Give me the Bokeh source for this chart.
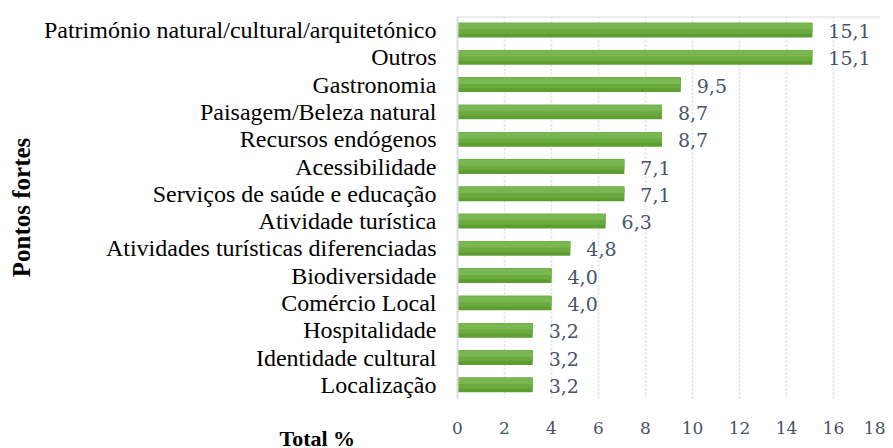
from bokeh.plotting import figure
from bokeh.models import ColumnDataSource, Title, FixedTicker, Range1d, Span
from bokeh.transform import dodge
from bokeh.embed import file_html
from bokeh.resources import INLINE

categories = [
    "Património natural/cultural/arquitetónico",
    "Outros",
    "Gastronomia",
    "Paisagem/Beleza natural",
    "Recursos endógenos",
    "Acessibilidade",
    "Serviços de saúde e educação",
    "Atividade turística",
    "Atividades turísticas diferenciadas",
    "Biodiversidade",
    "Comércio Local",
    "Hospitalidade",
    "Identidade cultural",
    "Localização",
]
values = [15.1, 15.1, 9.5, 8.7, 8.7, 7.1, 7.1, 6.3, 4.8, 4.0, 4.0, 3.2, 3.2, 3.2]
x_ticks = [0, 2, 4, 6, 8, 10, 12, 14, 16, 18]

labels = [f"{v:.1f}".replace(".", ",") for v in values]
source = ColumnDataSource(dict(cat=categories, val=values, lab=labels))

FONT = "Liberation Serif"
NUMFONT = "DejaVu Serif"
TXT = "#44546A"

p = figure(
    width=885, height=448,
    y_range=list(reversed(categories)),
    x_range=Range1d(0, 18),
    output_backend="svg", toolbar_location=None,
    min_border_left=457, min_border_right=5, min_border_top=16, min_border_bottom=50,
)
p.outline_line_color = None
p.background_fill_color = "white"

# bars: darker base + lighter upper strips for a gradient feel
p.hbar(y="cat", right="val", left=0, height=0.54, source=source,
       fill_color="#5E9E31", line_color=None)
p.hbar(y=dodge("cat", 0.07, range=p.y_range), right="val", left=0, height=0.40, source=source,
       fill_color="#6CAA3F", line_color=None)
p.hbar(y=dodge("cat", 0.14, range=p.y_range), right="val", left=0, height=0.22, source=source,
       fill_color="#7AB651", line_color=None)

p.text(x="val", y="cat", text="lab", source=source, x_offset=16, y_offset=1,
       text_font={"value": NUMFONT}, text_font_size="19px", text_color=TXT,
       text_baseline="middle", text_align="left")

# x axis
xa = p.xaxis[0]
xa.ticker = FixedTicker(ticks=x_ticks)
xa.axis_line_color = None
xa.major_tick_line_color = None
xa.minor_tick_line_color = None
xa.major_label_text_font = NUMFONT
xa.major_label_text_font_size = "17px"
xa.major_label_text_color = TXT
xa.major_label_standoff = 17

# y axis
ya = p.yaxis[0]
ya.axis_line_color = "#D9DDE3"
ya.axis_line_width = 2
ya.major_tick_line_color = None
ya.minor_tick_line_color = None
ya.major_label_text_font = FONT
ya.major_label_text_font_size = "24px"
ya.major_label_text_color = "black"
ya.major_label_standoff = 15
ya.axis_label = "Pontos fortes"
ya.axis_label_text_font = FONT
ya.axis_label_text_font_size = "25px"
ya.axis_label_text_font_style = "bold"
ya.axis_label_text_color = "black"
ya.axis_label_standoff = 6

# top frame line
p.add_layout(Span(location=len(categories), dimension="width", line_color="#D9DDE3", line_width=2))

p.ygrid.grid_line_color = None
p.xgrid.ticker = FixedTicker(ticks=x_ticks[1:])
p.xgrid.grid_line_color = "#D6DBE4"
p.xgrid.grid_line_dash = "2 2"
p.xgrid.grid_line_width = 1.5

p.add_layout(Title(text="Total %", align="left", offset=-178, standoff=-29,
                   text_font=FONT, text_font_size="22px", text_font_style="bold",
                   text_color="black"), "below")

open("out.html", "w").write(file_html(p, INLINE))
